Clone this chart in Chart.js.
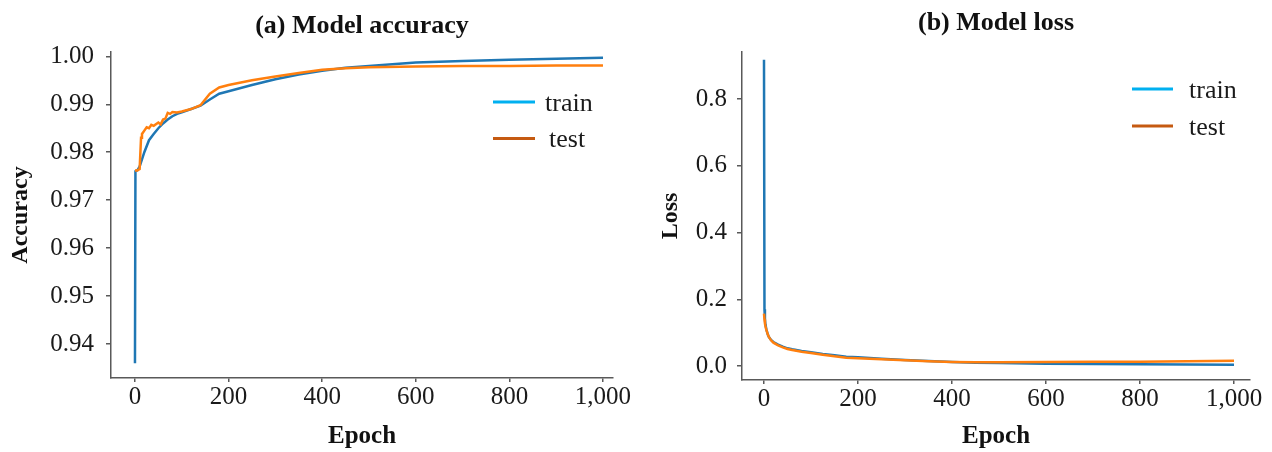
<!DOCTYPE html>
<html>
<head>
<meta charset="utf-8">
<script src="https://cdn.jsdelivr.net/npm/chart.js@4.4.0/dist/chart.umd.min.js"></script>
<style>
  body { margin: 0; background: #fff; }
  #wrap { position: relative; width: 1272px; height: 452px; }
  .panel { position: absolute; top: 0; height: 452px; }
</style>
</head>
<body>
<div id="wrap">
  <div class="panel" style="left:0;width:640px"><canvas id="accChart" width="640" height="452"></canvas></div>
  <div class="panel" style="left:640px;width:632px"><canvas id="lossChart" width="632" height="452"></canvas></div>
</div>
<script>
const seriesNames = ['train', 'test'];
const lineColors = ['#1f77b4', '#ff7f0e'];
const legendColors = ['#00b0f0', '#c55a11'];

// accuracy
const accTrainEpochs = [0, 1, 5, 10, 15, 20, 30, 40, 50, 60, 70, 80, 90, 100, 120, 140, 160, 180, 200, 250, 300, 350, 400, 450, 500, 600, 700, 800, 900, 1000];
const accTrain = [0.936, 0.976, 0.9762, 0.977, 0.9785, 0.980, 0.9825, 0.9838, 0.985, 0.986, 0.9868, 0.9875, 0.988, 0.9883, 0.989, 0.9897, 0.991, 0.9922, 0.9927, 0.994, 0.9952, 0.9962, 0.997, 0.9976, 0.998, 0.9987, 0.999, 0.9993, 0.9995, 0.9997];
const accTestEpochs = [0, 5, 10, 13, 15, 20, 25, 30, 35, 40, 50, 55, 60, 65, 70, 75, 80, 90, 100, 120, 140, 160, 180, 200, 250, 300, 350, 400, 450, 500, 600, 700, 800, 900, 1000];
const accTest = [0.9762, 0.9762, 0.9765, 0.983, 0.9838, 0.9845, 0.9852, 0.985, 0.9857, 0.9855, 0.9862, 0.9858, 0.9868, 0.987, 0.9882, 0.988, 0.9884, 0.9883, 0.9885, 0.989, 0.9898, 0.9922, 0.9935, 0.994, 0.995, 0.9958, 0.9965, 0.9972, 0.9975, 0.9977, 0.9979, 0.998, 0.998, 0.9981, 0.9981];

// loss
const lossEpochs = [0, 1, 2, 3, 5, 8, 10, 15, 20, 30, 40, 50, 60, 80, 100, 125, 150, 175, 200, 250, 300, 350, 400, 450, 500, 600, 700, 800, 900, 1000];
const lossTrain = [0.918, 0.17, 0.14, 0.125, 0.11, 0.095, 0.088, 0.078, 0.072, 0.064, 0.058, 0.053, 0.05, 0.045, 0.041, 0.036, 0.032, 0.028, 0.026, 0.022, 0.018, 0.015, 0.012, 0.01, 0.009, 0.007, 0.006, 0.005, 0.0045, 0.004];
const lossTest = [0.157, 0.14, 0.128, 0.12, 0.108, 0.095, 0.088, 0.077, 0.07, 0.062, 0.056, 0.051, 0.048, 0.043, 0.039, 0.034, 0.029, 0.025, 0.023, 0.02, 0.017, 0.014, 0.012, 0.011, 0.011, 0.012, 0.013, 0.013, 0.014, 0.016];

const epochTicks = [0, 200, 400, 600, 800, 1000];

Chart.defaults.font.family = '"Liberation Serif", "Times New Roman", serif';
Chart.defaults.color = '#1a1a1a';

const toPoints = (xs, ys) => xs.map((x, i) => ({ x: x, y: ys[i] }));

// legend drawn inside the plot, to the right
const sideLegend = {
    id: 'sideLegend',
    afterDraw(chart, args, opts) {
        const ctx = chart.ctx;
        ctx.save();
        ctx.font = '26px "Liberation Serif"';
        ctx.textBaseline = 'middle';
        seriesNames.forEach((name, i) => {
            const y = opts.y + i * opts.gap;
            ctx.strokeStyle = legendColors[i];
            ctx.lineWidth = 3;
            ctx.beginPath();
            ctx.moveTo(opts.x, y);
            ctx.lineTo(opts.x + opts.len, y);
            ctx.stroke();
            ctx.fillStyle = '#1a1a1a';
            ctx.fillText(name, opts.textX[i], y + 2);
        });
        ctx.restore();
    }
};

const makeChart = (id, c) => {
    const ctx = document.getElementById(id).getContext('2d');
    return new Chart(ctx, {
        type: 'line',
        data: {
            datasets: [
                { label: 'test', data: c.test, borderColor: lineColors[1], borderWidth: 2.5, pointRadius: 0, order: 0 },
                { label: 'train', data: c.train, borderColor: lineColors[0], borderWidth: 2.5, pointRadius: 0, order: 1 }
            ]
        },
        options: {
            responsive: false,
            animation: false,
            layout: { padding: { left: 0, right: c.padRight, top: 0, bottom: 0 } },
            plugins: {
                legend: { display: false },
                tooltip: { enabled: false },
                title: {
                    display: true,
                    text: c.title,
                    fullSize: false,
                    color: '#111',
                    font: { size: 26, weight: 'bold' },
                    padding: c.titlePad
                },
                sideLegend: c.legend
            },
            scales: {
                x: {
                    type: 'linear',
                    min: c.xMin,
                    max: c.xMax,
                    afterFit: (s) => { s.height = c.xHeight; },
                    afterBuildTicks: (s) => { s.ticks = epochTicks.map(v => ({ value: v })); },
                    ticks: {
                        font: { size: 25 },
                        padding: 0,
                        maxRotation: 0,
                        callback: (v) => v.toLocaleString('en-US')
                    },
                    grid: { drawOnChartArea: false, drawTicks: true, tickLength: 4, color: '#595959', lineWidth: 1.5 },
                    border: { color: '#595959', width: 1.5 },
                    title: { display: true, text: 'Epoch', color: '#111', font: { size: 25, weight: 'bold' }, padding: { top: 0, bottom: c.epochPad } }
                },
                y: {
                    min: c.yMin,
                    max: c.yMax,
                    afterFit: (s) => { s.width = c.yWidth; },
                    afterBuildTicks: (s) => { s.ticks = c.yTicks.map(v => ({ value: v })); },
                    ticks: {
                        font: { size: 25 },
                        padding: c.yTickPad,
                        callback: (v) => v.toFixed(c.yDigits)
                    },
                    grid: { drawOnChartArea: false, drawTicks: true, tickLength: 5, color: '#595959', lineWidth: 1.5 },
                    border: { color: '#595959', width: 1.5 },
                    title: { display: true, text: c.yTitle, color: '#111', font: { size: 24, weight: 'bold' }, padding: { top: c.yTitlePad, bottom: 0 } }
                }
            }
        },
        plugins: [sideLegend]
    });
};

makeChart('accChart', {
    title: '(a) Model accuracy',
    titlePad: { top: 10.4, bottom: 10.4 },
    train: toPoints(accTrainEpochs, accTrain),
    test: toPoints(accTestEpochs, accTest),
    xMin: -51.2, xMax: 1021.4,
    yMin: 0.9329, yMax: 1.0009,
    yTicks: [0.94, 0.95, 0.96, 0.97, 0.98, 0.99, 1.00],
    yDigits: 2,
    yTitle: 'Accuracy',
    yTitlePad: 6,
    yWidth: 111,
    yTickPad: 12,
    xHeight: 74,
    epochPad: 0,
    padRight: 27,
    legend: { x: 493, y: 102, gap: 36.5, len: 42, textX: [545, 549] }
});

makeChart('lossChart', {
    title: '(b) Model loss',
    titlePad: { top: 7.9, bottom: 12.9 },
    train: toPoints(lossEpochs, lossTrain),
    test: toPoints(lossEpochs, lossTest),
    xMin: -46.8, xMax: 1034,
    yMin: -0.042, yMax: 0.9415,
    yTicks: [0.0, 0.2, 0.4, 0.6, 0.8],
    yDigits: 1,
    yTitle: 'Loss',
    yTitlePad: 16,
    yWidth: 102,
    yTickPad: 10,
    xHeight: 72,
    epochPad: 0,
    padRight: 22,
    legend: { x: 492, y: 89, gap: 37, len: 41, textX: [549, 549] }
});
</script>
</body>
</html>
